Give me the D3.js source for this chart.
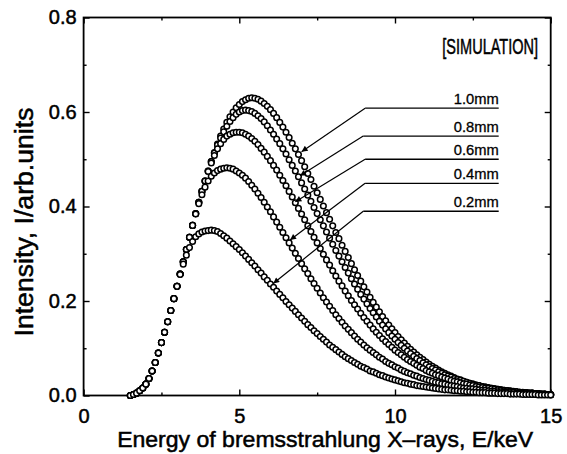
<!DOCTYPE html>
<html>
<head>
<meta charset="utf-8">
<script src="https://cdn.jsdelivr.net/npm/d3@7"></script>
<style>
  body { margin: 0; background: #fff; }
  text { font-family: "Liberation Sans", Arial, sans-serif; fill: #000; stroke: #000; stroke-width: 0.5px; }
</style>
</head>
<body>
<div id="chart"></div>
<script>
// energy grid of the simulated points (keV)
var eStart = 1.5, eStep = 0.1;

// intensities, one value per 0.1 keV from 1.5 to 15 keV
var int10 = [0,.002,.005,.010,.016,.024,.036,.052,.070,.090,.112,.134,.156,.180,.205,
  .231,.257,.283,.309,.335,.360,.385,.409,.432,.454,
  .475,.495,.514,.532,.549,.564,.578,.590,.600,.609,
  .616,.622,.626,.629,.630,.629,.627,.623,.618,.612,
  .605,.597,.588,.578,.568,.557,.546,.534,.522,.510,
  .497,.484,.470,.457,.443,.429,.415,.401,.387,.373,
  .359,.345,.332,.318,.305,.292,.279,.266,.254,.242,
  .230,.219,.208,.197,.187,.177,.167,.158,.149,.141,
  .133,.125,.118,.111,.104,.098,.092,.086,.081,.076,
  .071,.066,.062,.058,.054,.050,.047,.044,.041,.038,
  .035,.033,.030,.028,.026,.024,.022,.021,.019,.018,
  .016,.015,.014,.013,.012,.011,.010,.009,.008,.008,
  .007,.006,.006,.005,.005,.004,.004,.003,.003,.002,
  .002];
var int08 = [0,.002,.005,.010,.016,.024,.036,.052,.070,.090,.112,.134,.156,.180,.205,
  .231,.257,.283,.309,.335,.360,.385,.409,.432,.454,
  .475,.495,.513,.530,.545,.558,.570,.580,.588,.595,
  .600,.603,.604,.603,.601,.597,.592,.586,.579,.571,
  .562,.553,.543,.533,.522,.511,.499,.487,.475,.463,
  .450,.437,.424,.411,.398,.385,.372,.359,.346,.333,
  .320,.307,.295,.283,.271,.259,.247,.236,.225,.214,
  .204,.194,.184,.175,.166,.157,.149,.141,.133,.126,
  .119,.112,.106,.100,.094,.089,.083,.078,.074,.069,
  .065,.061,.057,.054,.050,.047,.044,.041,.039,.036,
  .034,.032,.030,.028,.026,.024,.022,.021,.019,.018,
  .017,.015,.014,.013,.012,.011,.010,.010,.009,.008,
  .007,.007,.006,.005,.005,.004,.004,.003,.003,.002,
  .002];
var int06 = [0,.002,.005,.010,.016,.024,.036,.052,.070,.090,.112,.134,.156,.180,.205,
  .231,.257,.283,.309,.335,.360,.385,.409,.432,.454,
  .474,.492,.508,.522,.533,.542,.549,.553,.556,.557,
  .557,.556,.553,.549,.544,.538,.531,.523,.515,.506,
  .497,.487,.477,.466,.455,.444,.432,.420,.408,.396,
  .384,.372,.359,.347,.335,.323,.311,.299,.287,.276,
  .264,.253,.242,.232,.221,.211,.201,.192,.183,.174,
  .165,.157,.149,.141,.134,.127,.120,.114,.108,.102,
  .096,.091,.086,.081,.076,.072,.068,.064,.060,.057,
  .053,.050,.047,.044,.042,.039,.037,.035,.032,.030,
  .029,.027,.025,.024,.022,.021,.019,.018,.017,.016,
  .015,.014,.013,.012,.011,.010,.010,.009,.008,.008,
  .007,.006,.006,.005,.005,.004,.004,.003,.003,.002,
  .002];
var int04 = [0,.002,.005,.010,.016,.024,.036,.052,.070,.090,.112,.134,.156,.180,.205,
  .231,.257,.283,.309,.335,.360,.384,.406,.425,.441,
  .454,.464,.471,.476,.479,.481,.482,.481,.479,.475,
  .471,.466,.460,.453,.445,.437,.428,.419,.409,.399,
  .389,.378,.367,.356,.345,.334,.323,.312,.301,.290,
  .279,.268,.258,.247,.237,.227,.217,.207,.198,.189,
  .180,.171,.163,.155,.147,.140,.133,.126,.119,.113,
  .107,.101,.096,.091,.086,.081,.077,.072,.068,.065,
  .061,.058,.054,.051,.048,.046,.043,.041,.038,.036,
  .034,.032,.030,.028,.027,.025,.024,.022,.021,.020,
  .019,.017,.016,.015,.014,.014,.013,.012,.011,.011,
  .010,.009,.009,.008,.008,.007,.007,.006,.006,.005,
  .005,.005,.004,.004,.003,.003,.003,.002,.002,.002,
  .001];
var int02 = [0,.002,.005,.010,.016,.024,.036,.052,.070,.090,.112,.134,.156,.180,.205,
  .231,.256,.278,.297,.313,.326,.336,.342,.346,.348,
  .349,.350,.349,.347,.343,.338,.333,.327,.321,.315,
  .309,.302,.295,.288,.281,.274,.266,.259,.251,.244,
  .236,.229,.221,.214,.207,.199,.192,.185,.178,.171,
  .164,.157,.150,.144,.137,.131,.125,.119,.113,.107,
  .102,.097,.092,.087,.082,.078,.074,.070,.066,.062,
  .059,.056,.052,.050,.047,.044,.042,.039,.037,.035,
  .033,.031,.029,.027,.026,.024,.023,.021,.020,.019,
  .018,.017,.016,.015,.014,.013,.012,.012,.011,.010,
  .010,.009,.009,.008,.008,.007,.007,.006,.006,.006,
  .005,.005,.005,.004,.004,.004,.004,.003,.003,.003,
  .003,.002,.002,.002,.002,.002,.001,.001,.001,.001,
  .001];

var seriesNames = ["1.0mm", "0.8mm", "0.6mm", "0.4mm", "0.2mm"];
var seriesValues = [int10, int08, int06, int04, int02];

var xTicks = [0, 5, 10, 15];
var xMinor = [2.5, 7.5, 12.5];
var yTicks = [0, 0.2, 0.4, 0.6, 0.8];
var yMinor = [0.1, 0.3, 0.5, 0.7];

var width = 567, height = 454;
var margin = {left: 83.6, right: 16.3, top: 17.5, bottom: 58.5};

var svg = d3.select('#chart')
  .append('svg')
  .attr('width', width)
  .attr('height', height)

var x = d3.scaleLinear().domain([0, 15]).range([margin.left, width - margin.right]);
var y = d3.scaleLinear().domain([0, 0.8]).range([height - margin.bottom, margin.top]);

var x0 = x.range()[0], x1 = x.range()[1];
var y0 = y.range()[0], y1 = y.range()[1];

// ticks on all four sides, pointing inward
function tickAxis(axis, vals, size, tr, labels) {
  var g = svg.append('g')
    .attr('transform', tr)
    .call(axis.tickValues(vals).tickSizeInner(-size).tickSizeOuter(0)
      .tickFormat(labels || ""));
  g.select('.domain').remove();
  g.selectAll('line').attr('stroke', '#000').attr('stroke-width', 1.4);
  return g;
}

var xb = tickAxis(d3.axisBottom(x).tickPadding(13), xTicks, 6, 'translate(0,' + y0 + ')', d3.format('d'));
tickAxis(d3.axisBottom(x), xMinor, 3, 'translate(0,' + y0 + ')');
tickAxis(d3.axisTop(x), xTicks, 6, 'translate(0,' + y1 + ')');
tickAxis(d3.axisTop(x), xMinor, 3, 'translate(0,' + y1 + ')');
var yl = tickAxis(d3.axisLeft(y).tickPadding(7), yTicks, 6, 'translate(' + x0 + ',0)', d3.format('.1f'));
tickAxis(d3.axisLeft(y), yMinor, 3, 'translate(' + x0 + ',0)');
tickAxis(d3.axisRight(y), yTicks, 6, 'translate(' + x1 + ',0)');
tickAxis(d3.axisRight(y), yMinor, 3, 'translate(' + x1 + ',0)');

xb.selectAll('text').style('font-size', '20px').style('font-family', '"Liberation Sans", Arial, sans-serif');
yl.selectAll('text').style('font-size', '20px').style('font-family', '"Liberation Sans", Arial, sans-serif');

svg.append('rect')
  .attr('x', x0).attr('y', y1)
  .attr('width', x1 - x0).attr('height', y0 - y1)
  .attr('fill', 'none').attr('stroke', '#000').attr('stroke-width', 1.8);

// data points, open circles
var rows = seriesValues.map(function (vals, s) {
  return vals.map(function (v, i) {
    return {e: eStart + i * eStep, v: v, s: s};
  });
});

svg.selectAll('g.series')
  .data(rows)
  .join('g')
  .attr('class', 'series')
  .selectAll('circle')
  .data(d => d)
  .join('circle')
  .attr('cx', d => x(d.e))
  .attr('cy', d => y(d.v))
  .attr('r', 2.8)
  .attr('fill', '#fff')
  .attr('stroke', '#000')
  .attr('stroke-width', 1.5);

// labels with leader lines
svg.append('defs').append('marker')
  .attr('id', 'arrow')
  .attr('viewBox', '0 0 10 10')
  .attr('refX', 10).attr('refY', 5)
  .attr('markerUnits', 'userSpaceOnUse')
  .attr('markerWidth', 8).attr('markerHeight', 6)
  .attr('orient', 'auto')
  .append('path')
  .attr('d', 'M0,0L10,5L0,10z')
  .attr('fill', '#000');

// label anchor (start of underline) and tip in data units
var labelAt = [[9.04, 0.608], [8.98, 0.549], [9.04, 0.500], [9.04, 0.449], [8.98, 0.390]];
var tipAt = [[7.0, 0.516], [6.95, 0.465], [6.8, 0.410], [6.63, 0.329], [6.09, 0.237]];
var underlineEnd = 13.33;

var ann = svg.selectAll('g.ann')
  .data(seriesNames)
  .join('g')
  .attr('class', 'ann');

ann.append('line')
  .attr('x1', (d, i) => x(labelAt[i][0]))
  .attr('y1', (d, i) => y(labelAt[i][1]))
  .attr('x2', x(underlineEnd))
  .attr('y2', (d, i) => y(labelAt[i][1]))
  .attr('stroke', '#000').attr('stroke-width', 1.3);

ann.append('line')
  .attr('x1', (d, i) => x(labelAt[i][0]))
  .attr('y1', (d, i) => y(labelAt[i][1]))
  .attr('x2', (d, i) => x(tipAt[i][0]))
  .attr('y2', (d, i) => y(tipAt[i][1]))
  .attr('stroke', '#000').attr('stroke-width', 1.2)
  .attr('marker-end', 'url(#arrow)');

ann.append('text')
  .attr('x', x(underlineEnd))
  .attr('y', (d, i) => y(labelAt[i][1]) - 4)
  .attr('text-anchor', 'end')
  .attr('textLength', 45)
  .attr('lengthAdjust', 'spacingAndGlyphs')
  .style('font-size', '15px')
  .style('stroke-width', '0.3px')
  .text(d => d);

svg.append('text')
  .attr('transform', 'translate(538,54) scale(0.66,1)')
  .attr('text-anchor', 'end')
  .style('font-size', '22px')
  .text('[SIMULATION]');

// axis titles
svg.append('text')
  .attr('x', (x0 + x1) / 2 + 8).attr('y', 447)
  .attr('text-anchor', 'middle')
  .attr('textLength', 416)
  .attr('lengthAdjust', 'spacingAndGlyphs')
  .style('font-size', '22px')
  .text('Energy of bremsstrahlung X\u2013rays, E/keV');

svg.append('text')
  .attr('transform', 'translate(33,222) rotate(-90)')
  .attr('text-anchor', 'middle')
  .attr('textLength', 229)
  .attr('lengthAdjust', 'spacingAndGlyphs')
  .style('font-size', '25px')
  .text('Intensity, I/arb.units');
</script>
</body>
</html>
